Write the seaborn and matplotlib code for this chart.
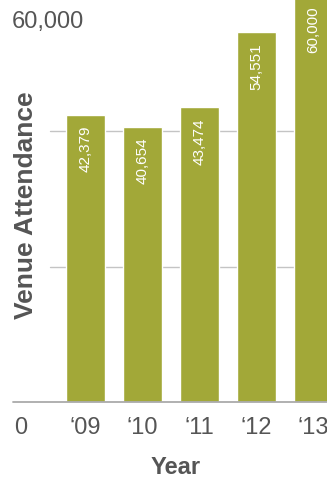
import matplotlib
matplotlib.use("Agg")
import matplotlib.pyplot as plt
import seaborn as sns
import pandas as pd

# data
years = ["\u201809", "\u201810", "\u201811", "\u201812", "\u201813"]
attendance = [42379, 40654, 43474, 54551, 60000]
grid_values = [20000, 40000]

BAR = "#a2a838"
TXT = "#555555"

sns.set_theme(style="white")
plt.rcParams["font.family"] = ["Liberation Sans", "DejaVu Sans"]

df = pd.DataFrame({"year": years, "attendance": attendance})

fig = plt.figure(figsize=(3.27, 4.79), dpi=100)
ax = fig.add_axes([0, 77 / 479, 1, 402 / 479])

# light gridlines behind the bars
for g in grid_values:
    ax.axhline(g, xmin=50 / 327, color="#c4c4c4", lw=1, zorder=0)

sns.barplot(data=df, x="year", y="attendance", color=BAR, saturation=1,
            width=0.684, ax=ax, zorder=2)

# white value labels inside the top of each bar
for i, v in enumerate(attendance):
    ax.annotate(f"{v:,}", (i, v), xytext=(0, -8), textcoords="offset points",
                rotation=90, ha="center", va="top", color="white",
                fontsize=11, annotation_clip=False, zorder=3)

ax.axhline(0, xmin=13 / 327, color="#aaaaaa", lw=1.3, clip_on=False, zorder=3)

ax.set_xlim(-1.5, -1.5 + 327 / 57)
ax.set_ylim(0, 402 * 20000 / 135.5)

sns.despine(ax=ax, left=True, bottom=True, top=True, right=True)
ax.set_yticks([])
ax.tick_params(axis="x", length=0, pad=11, labelsize=17, labelcolor=TXT)
ax.set_xlabel("")
ax.set_ylabel("")

# axis end labels and titles
fig.text(21 / 327, 1 - 428 / 479, "0", ha="center", va="center",
         fontsize=17, color=TXT)
fig.text(12 / 327, 1 - 22 / 479, "60,000", ha="left", va="center",
         fontsize=17, color=TXT)
fig.text(176 / 327, 1 - 467 / 479, "Year", ha="center", va="center",
         fontsize=17, fontweight="bold", color=TXT)
fig.text(26 / 327, 1 - 205 / 479, "Venue Attendance", ha="center",
         va="center", rotation=90, fontsize=19, fontweight="bold", color=TXT)

fig.savefig("out.png", dpi=100)
